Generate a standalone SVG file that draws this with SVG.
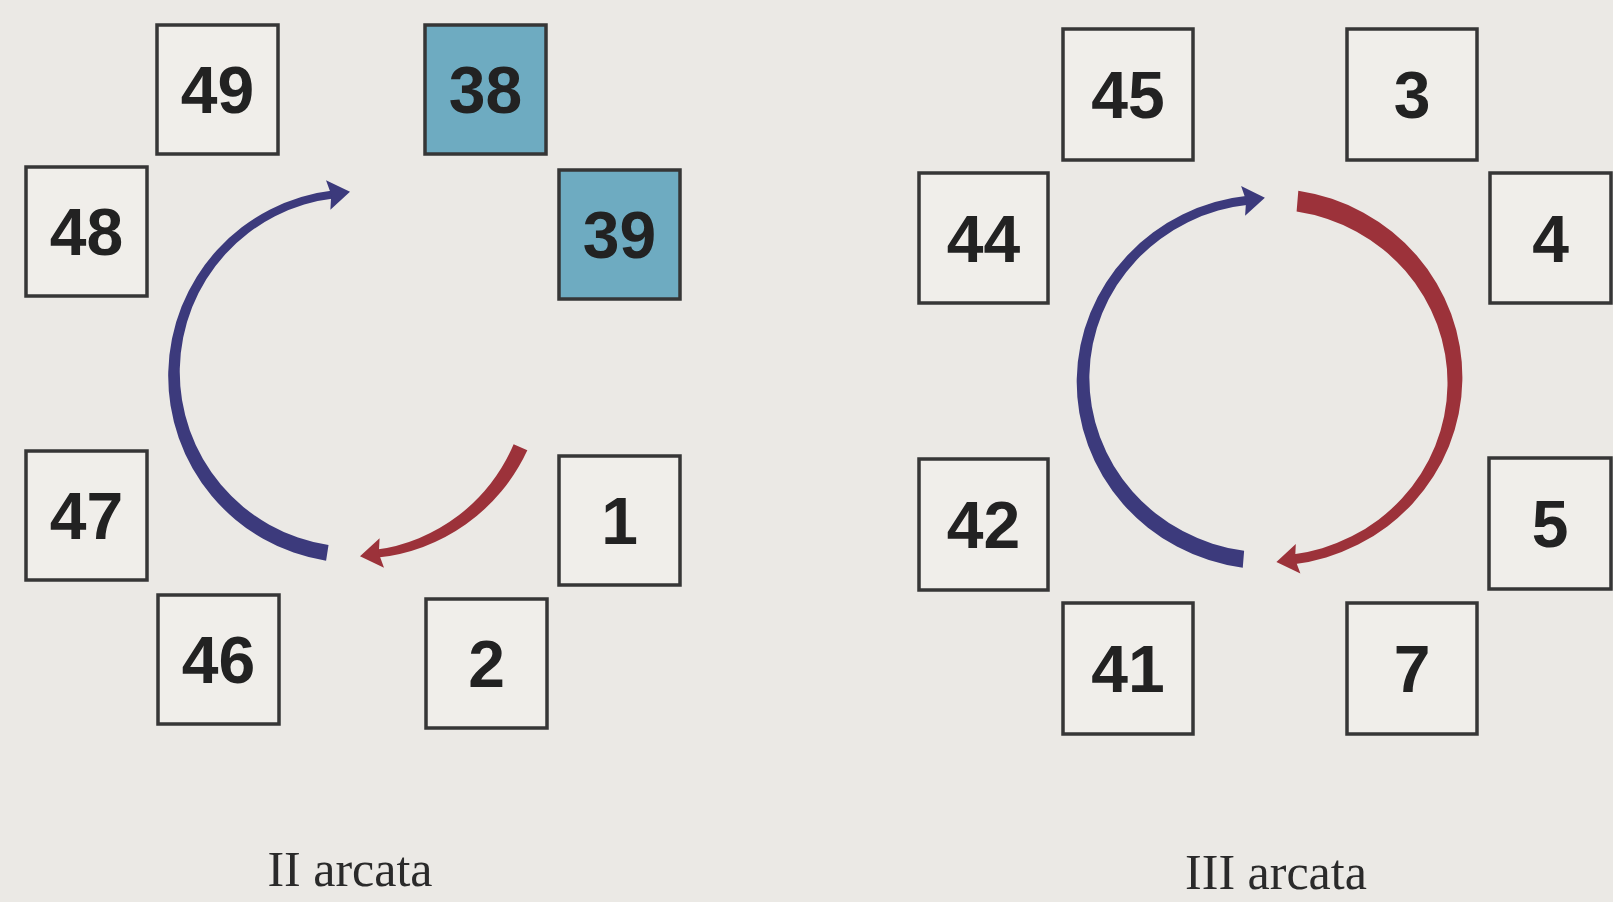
<svg xmlns="http://www.w3.org/2000/svg" width="1613" height="902" viewBox="0 0 1613 902">
<style>
.box{fill:#f0eeea;stroke:#363636;stroke-width:3.5}
.hl{fill:#6eabc1}
.num{font-family:"Liberation Sans",Arial,sans-serif;font-weight:bold;font-size:66px;fill:#222;text-anchor:middle}
.lbl{font-family:"Liberation Serif","Times New Roman",serif;font-size:50px;fill:#2a2a2a;text-anchor:middle}
.bh{fill:#3c3a7c}
.rh{fill:#9c323a}
</style>
<rect width="1613" height="902" fill="#ebe9e5"/>

<g id="connectors">
  <!-- left circle: blue, tapered -->
  <path class="bh" d="M326.08,560.77 A187.04,187.04 0 0 1 334.06,190.18 L334.96,198.13 A174.96,174.96 0 0 0 328.53,544.96 Z"/>
  <path class="bh" d="M350.0,191.7 L326.0,180.2 L331.2,194.6 L330.4,209.8 Z"/>
  <!-- left circle: red, tapered -->
  <path class="rh" d="M527.35,450.36 A186.76,186.76 0 0 1 375.94,557.82 L375.04,549.87 A175.24,175.24 0 0 0 513.63,444.28 Z"/>
  <path class="rh" d="M360.0,556.3 L384.0,567.8 L378.8,553.4 L379.6,538.2 Z"/>

  <!-- right circle: blue, tapered -->
  <path class="bh" d="M1242.76,567.77 A192.53,187.53 0 0 1 1249.09,195.52 L1250.04,204.47 A179.47,174.47 0 0 0 1244.13,550.79 Z"/>
  <path class="bh" d="M1264.9,197.8 L1245.1,215.7 L1246.1,200.4 L1241.1,185.9 Z"/>
  <!-- right circle: red, tapered -->
  <path class="rh" d="M1298.31,190.65 A193.8,188.8 0 0 1 1292.28,564.60 L1291.06,554.68 A178.2,173.2 0 0 0 1296.60,211.62 Z"/>
  <path class="rh" d="M1276.4,562.1 L1300.4,573.6 L1295.1,559.3 L1295.8,544.0 Z"/>
</g>

<!-- II arcata -->
<g id="n49"><rect class="box" x="157" y="25" width="121" height="129"/><text class="num" x="217.5" y="113">49</text></g>
<g id="n38"><rect class="box hl" x="425" y="25" width="121" height="129"/><text class="num" x="485.5" y="113">38</text></g>
<g id="n48"><rect class="box" x="26" y="167" width="121" height="129"/><text class="num" x="86.5" y="255">48</text></g>
<g id="n39"><rect class="box hl" x="559" y="170" width="121" height="129"/><text class="num" x="619.5" y="258">39</text></g>
<g id="n47"><rect class="box" x="26" y="451" width="121" height="129"/><text class="num" x="86.5" y="539">47</text></g>
<g id="n1"><rect class="box" x="559" y="456" width="121" height="129"/><text class="num" x="619.5" y="544">1</text></g>
<g id="n46"><rect class="box" x="158" y="595" width="121" height="129"/><text class="num" x="218.5" y="683">46</text></g>
<g id="n2"><rect class="box" x="426" y="599" width="121" height="129"/><text class="num" x="486.5" y="687">2</text></g>

<!-- III arcata -->
<g id="n45"><rect class="box" x="1063" y="29" width="130" height="131"/><text class="num" x="1128" y="118">45</text></g>
<g id="n3"><rect class="box" x="1347" y="29" width="130" height="131"/><text class="num" x="1412" y="118">3</text></g>
<g id="n44"><rect class="box" x="919" y="173" width="129" height="130"/><text class="num" x="983.5" y="261.5">44</text></g>
<g id="n4"><rect class="box" x="1490" y="173" width="121" height="130"/><text class="num" x="1550.5" y="261.5">4</text></g>
<g id="n42"><rect class="box" x="919" y="459" width="129" height="131"/><text class="num" x="983.5" y="548">42</text></g>
<g id="n5"><rect class="box" x="1489" y="458" width="122" height="131"/><text class="num" x="1550" y="547">5</text></g>
<g id="n41"><rect class="box" x="1063" y="603" width="130" height="131"/><text class="num" x="1128" y="692">41</text></g>
<g id="n7"><rect class="box" x="1347" y="603" width="130" height="131"/><text class="num" x="1412" y="692">7</text></g>

<text class="lbl" x="350" y="886">II arcata</text>
<text class="lbl" x="1276" y="889">III arcata</text>
</svg>
